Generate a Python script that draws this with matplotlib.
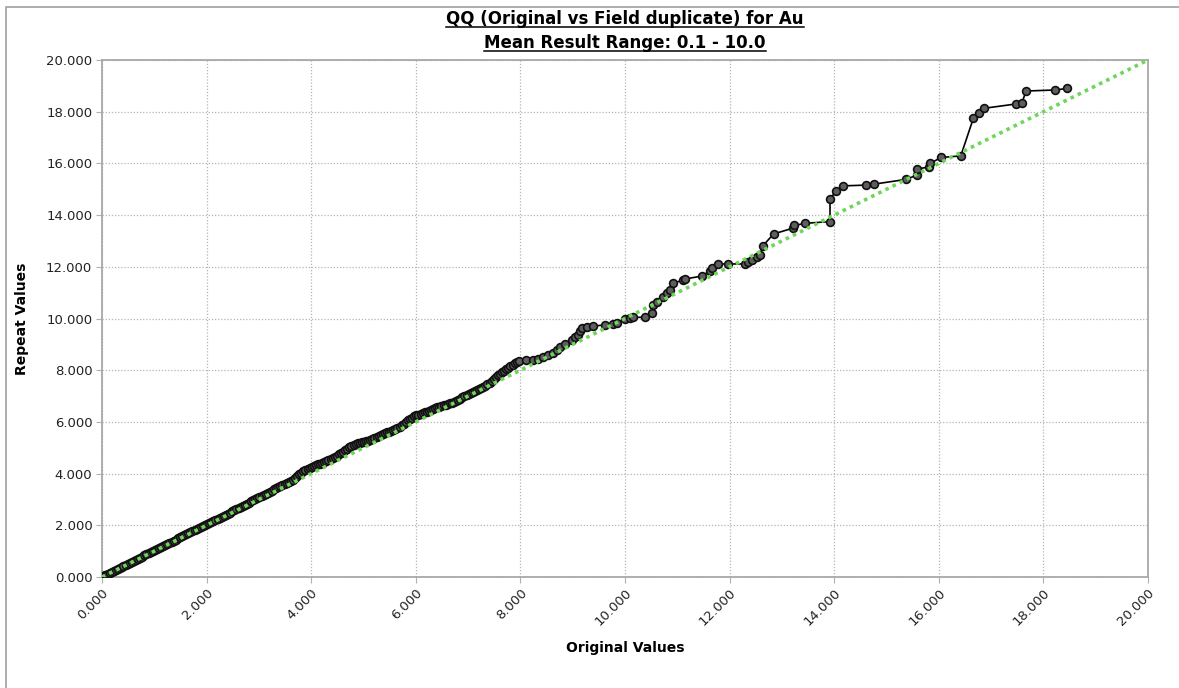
import matplotlib
matplotlib.use("Agg")
import matplotlib.pyplot as plt
from matplotlib.lines import Line2D
from matplotlib.patches import Rectangle

# -----------------------------
# Data
# -----------------------------
original = [
    0.02, 0.05, 0.08, 0.12, 0.15, 0.19, 0.22, 0.26, 0.30, 0.34,
    0.38, 0.41, 0.45, 0.49, 0.53, 0.57, 0.61, 0.65, 0.69, 0.73,
    0.77, 0.81, 0.85, 0.89, 0.93, 0.97, 1.01, 1.05, 1.09, 1.13,
    1.17, 1.21, 1.25, 1.29, 1.33, 1.37, 1.41, 1.45, 1.49, 1.53,
    1.57, 1.61, 1.65, 1.69, 1.73, 1.77, 1.81, 1.85, 1.89, 1.93,
    1.97, 2.01, 2.05, 2.09, 2.13, 2.17, 2.21, 2.25, 2.29, 2.33,
    2.37, 2.41, 2.45, 2.49, 2.53, 2.57, 2.61, 2.65, 2.69, 2.73,
    2.77, 2.81, 2.85, 2.89, 2.93, 2.97, 3.01, 3.05, 3.09, 3.13,
    3.17, 3.21, 3.25, 3.29, 3.33, 3.37, 3.41, 3.45, 3.49, 3.53,
    3.57, 3.61, 3.65, 3.69, 3.73, 3.77, 3.81, 3.85, 3.89, 3.93,
    3.97, 4.01, 4.05, 4.09, 4.13, 4.17, 4.21, 4.25, 4.29, 4.33,
    4.37, 4.41, 4.45, 4.49, 4.53, 4.57, 4.61, 4.65, 4.69, 4.73,
    4.77, 4.81, 4.85, 4.89, 4.93, 4.97, 5.01, 5.05, 5.09, 5.13,
    5.17, 5.21, 5.25, 5.29, 5.33, 5.37, 5.41, 5.45, 5.49, 5.53,
    5.57, 5.61, 5.65, 5.69, 5.73, 5.77, 5.81, 5.85, 5.89, 5.93,
    5.97, 6.01, 6.05, 6.09, 6.13, 6.17, 6.21, 6.25, 6.29, 6.33,
    6.37, 6.41, 6.45, 6.49, 6.53, 6.57, 6.61, 6.65, 6.69, 6.73,
    6.77, 6.81, 6.85, 6.89, 6.93, 6.97, 7.01, 7.05, 7.09, 7.13,
    7.17, 7.21, 7.25, 7.29, 7.33, 7.37, 7.41, 7.45, 7.49, 7.53,
    7.57, 7.61, 7.65, 7.69, 7.73, 7.77, 7.81, 7.85, 7.89, 7.93,
    7.97, 8.10, 8.24, 8.34, 8.43, 8.53, 8.62, 8.70, 8.76, 8.85,
    8.98, 9.05, 9.11, 9.14, 9.17, 9.27, 9.39, 9.62, 9.78, 9.84,
    10.00, 10.10, 10.16, 10.38, 10.51, 10.54, 10.62, 10.73, 10.80, 10.86,
    10.92, 11.11, 11.15, 11.47, 11.63, 11.66, 11.77, 11.96, 12.29, 12.35,
    12.42, 12.52, 12.58, 12.64, 12.84, 13.22, 13.24, 13.44, 13.92, 13.92,
    14.03, 14.16, 14.61, 14.77, 15.37, 15.59, 15.59, 15.82, 15.84, 16.04,
    16.42, 16.66, 16.76, 16.86, 17.48, 17.59, 17.67, 18.22, 18.46,
]
repeat = [
    0.03, 0.06, 0.09, 0.13, 0.16, 0.20, 0.23, 0.27, 0.31, 0.35,
    0.39, 0.43, 0.47, 0.51, 0.55, 0.59, 0.63, 0.67, 0.71, 0.75,
    0.79, 0.84, 0.88, 0.92, 0.96, 1.00, 1.04, 1.08, 1.12, 1.16,
    1.20, 1.25, 1.29, 1.33, 1.37, 1.41, 1.45, 1.49, 1.53, 1.57,
    1.61, 1.65, 1.69, 1.73, 1.77, 1.81, 1.85, 1.89, 1.93, 1.97,
    2.01, 2.04, 2.08, 2.12, 2.16, 2.20, 2.24, 2.28, 2.32, 2.37,
    2.41, 2.45, 2.49, 2.54, 2.58, 2.62, 2.66, 2.71, 2.75, 2.80,
    2.84, 2.88, 2.93, 2.97, 3.01, 3.06, 3.10, 3.14, 3.18, 3.22,
    3.26, 3.30, 3.34, 3.39, 3.43, 3.47, 3.51, 3.56, 3.60, 3.64,
    3.68, 3.72, 3.77, 3.83, 3.90, 3.97, 4.03, 4.09, 4.14, 4.19,
    4.23, 4.27, 4.30, 4.33, 4.36, 4.39, 4.42, 4.45, 4.49, 4.53,
    4.57, 4.62, 4.66, 4.70, 4.74, 4.79, 4.84, 4.90, 4.95, 5.01,
    5.07, 5.11, 5.15, 5.17, 5.19, 5.21, 5.23, 5.25, 5.28, 5.31,
    5.34, 5.37, 5.41, 5.44, 5.48, 5.52, 5.56, 5.59, 5.62, 5.65,
    5.69, 5.73, 5.77, 5.82, 5.87, 5.93, 6.00, 6.06, 6.12, 6.17,
    6.22, 6.25, 6.28, 6.31, 6.34, 6.37, 6.40, 6.43, 6.47, 6.50,
    6.53, 6.56, 6.59, 6.62, 6.65, 6.67, 6.70, 6.72, 6.75, 6.78,
    6.82, 6.86, 6.90, 6.95, 7.00, 7.05, 7.09, 7.12, 7.16, 7.19,
    7.22, 7.26, 7.31, 7.35, 7.40, 7.46, 7.52, 7.58, 7.65, 7.72,
    7.80, 7.86, 7.92, 7.97, 8.03, 8.09, 8.15, 8.22, 8.28, 8.32,
    8.36, 8.38, 8.40, 8.45, 8.51, 8.58, 8.68, 8.80, 8.91, 9.00,
    9.17, 9.28, 9.36, 9.50, 9.62, 9.68, 9.71, 9.75, 9.77, 9.84,
    9.97, 10.02, 10.04, 10.05, 10.20, 10.52, 10.65, 10.84, 10.98, 11.10,
    11.36, 11.49, 11.53, 11.64, 11.85, 11.94, 12.11, 12.11, 12.11, 12.20,
    12.26, 12.37, 12.46, 12.82, 13.27, 13.50, 13.60, 13.68, 13.75, 14.61,
    14.93, 15.13, 15.16, 15.20, 15.38, 15.55, 15.78, 15.87, 16.00, 16.23,
    16.29, 17.74, 17.96, 18.13, 18.30, 18.35, 18.80, 18.84, 18.90,
]
ref_line = [0.0, 20.0]
ticks = [0, 2, 4, 6, 8, 10, 12, 14, 16, 18, 20]

W, H = 1179, 688
fig = plt.figure(figsize=(W / 100, H / 100), dpi=100)
fig.patch.set_facecolor("white")

# outer frame of the exported chart (right/bottom edges fall off the picture)
fig.patches.append(Rectangle((6 / W, -0.2), 1.2, 1.2 - 7 / H, transform=fig.transFigure,
                             fill=False, edgecolor="#a0a0a0", linewidth=1.2))

ax = fig.add_axes([102 / W, 1 - 577 / H, (1148 - 102) / W, (577 - 60) / H])

ax.plot(original, repeat, color="black", linewidth=1.2, marker="o", markersize=5.6,
        markerfacecolor="#5e5e5e", markeredgecolor="#101010", markeredgewidth=1.2, zorder=3)
ax.plot(ref_line, ref_line, color="#6fd65a", linestyle=(0, (1, 1.2)), linewidth=2.6, zorder=4)

ax.set_xlim(0, 20)
ax.set_ylim(0, 20)
ax.set_xticks(ticks)
ax.set_yticks(ticks)
ax.set_xticklabels([f"{t:.3f}" for t in ticks], rotation=45, ha="right",
                   rotation_mode="anchor", fontsize=9.5, color="#222222")
ax.set_yticklabels([f"{t:.3f}" for t in ticks], fontsize=9.5, color="#222222")
ax.tick_params(length=4, color="#b0b0b0", width=0.8, pad=3)
ax.grid(True, color="#b5b5b5", linestyle=(0, (1, 1.5)), linewidth=0.9)
for sp in ax.spines.values():
    sp.set_color("#a8a8a8")
    sp.set_linewidth(1.3)

ax.set_xlabel("Original Values", fontsize=10, fontweight="bold", labelpad=9)
ax.set_ylabel("Repeat Values", fontsize=10, fontweight="bold", labelpad=12)

# underlined two-line title
cx = (102 + 1148) / 2 / W
t1 = fig.text(cx, 1 - 19 / H, "QQ (Original vs Field duplicate) for Au", ha="center", va="center",
              fontsize=12, fontweight="bold")
t2 = fig.text(cx, 1 - 43 / H, "Mean Result Range: 0.1 - 10.0", ha="center", va="center",
              fontsize=12, fontweight="bold")
fig.canvas.draw()
r = fig.canvas.get_renderer()
for t in (t1, t2):
    bb = t.get_window_extent(r)
    yl = (bb.y0 + 1.0) / H
    fig.lines.append(Line2D([bb.x0 / W, bb.x1 / W], [yl, yl], transform=fig.transFigure,
                            color="black", linewidth=1.1))

fig.savefig("out.png", dpi=100)
